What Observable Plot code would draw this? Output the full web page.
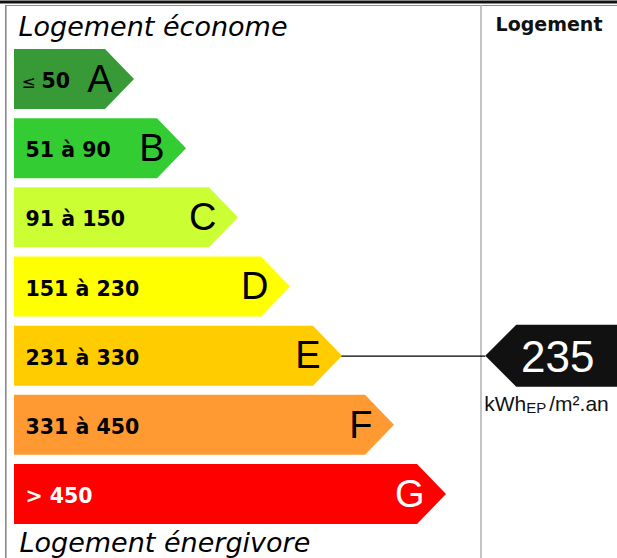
<!DOCTYPE html>
<html>
<head>
<meta charset="utf-8">
<script src="https://cdn.jsdelivr.net/npm/d3@7"></script>
<script src="https://cdn.jsdelivr.net/npm/@observablehq/plot@0.6"></script>
<style>
  html, body { margin: 0; padding: 0; background: #fff; }
  #chart svg { display: block; }
</style>
</head>
<body>
<div id="chart"></div>
<script>
// ---- data ----
const classes = ["A", "B", "C", "D", "E", "F", "G"];
const rangeLabels = ["50", "51 à 90", "91 à 150", "151 à 230", "231 à 330", "331 à 450", "> 450"];
const labelPrefix = ["≤", "", "", "", "", "", ""];
const thresholds = [50, 90, 150, 230, 330, 450];
const barLength = [7, 11, 15, 19, 23, 27, 31];
const barColors = ["#379a37", "#33cc33", "#ccff33", "#ffff00", "#ffcc00", "#ff9a33", "#ff0000"];
const textColors = ["#000", "#000", "#000", "#000", "#000", "#000", "#fff"];
const energyValue = 235;
const unitMain = "kWh", unitSub = "EP", unitTail = "/m².an";
const topTitle = "Logement économe";
const bottomTitle = "Logement énergivore";
const columnTitle = "Logement";

// ---- derived table ----
const rows = classes.map((cls, i) => ({
  cls, label: rangeLabels[i], prefix: labelPrefix[i], len: barLength[i],
  color: barColors[i], ink: textColors[i]
}));
const markerClass = classes[d3.bisectLeft(thresholds, energyValue)];
const markerRow = rows.find(d => d.cls === markerClass);
const markerData = [{cls: markerClass, value: energyValue, len: markerRow.len}];

const W = 617, H = 558;
const X_MAX = 36.25;
const TIP = 29;

function bandwidthOf(scales) {
  if (scales.y && typeof scales.y.bandwidth === "function") return scales.y.bandwidth();
  return scales.scales.y.bandwidth;
}

function arrowRender(index, scales, values) {
  const bw = bandwidthOf(scales);
  const g = d3.create("svg:g");
  for (const i of index) {
    const x0 = values.x1[i], x1 = values.x2[i], y0 = values.y[i];
    g.append("path")
      .attr("d", `M${x0},${y0}H${x1}L${x1 + TIP},${y0 + bw / 2}L${x1},${y0 + bw}H${x0}Z`)
      .attr("fill", values.fill ? values.fill[i] : rows[i].color);
  }
  return g.node();
}

function markerRender(index, scales, values, dimensions, context, next) {
  const bw = bandwidthOf(scales);
  const g = d3.create("svg:g");
  for (const i of index) {
    const xt = values.x[i], yc = values.y[i] + bw / 2, h = 31;
    g.append("path")
      .attr("d", `M${xt},${yc}L${xt + h},${yc - h}H${dimensions.width + 2}V${yc + h}H${xt + h}Z`)
      .attr("fill", "#111");
    const t = g.append("text")
      .attr("x", xt - 1).attr("y", yc + 55)
      .attr("text-anchor", "start")
      .attr("font-family", "Liberation Sans, Arial, sans-serif")
      .attr("font-size", 21).attr("fill", "#111");
    t.append("tspan").text(unitMain);
    t.append("tspan").attr("font-size", 15).attr("dy", 2).text(unitSub);
    t.append("tspan").attr("dy", -2).attr("dx", 3).text(unitTail);
  }
  const node = g.node();
  const txt = next(index, scales, values, dimensions, context);
  if (txt) node.appendChild(txt);
  return node;
}

function frameRender(index, scales, values, dimensions) {
  const {width, height} = dimensions;
  const g = d3.create("svg:g").attr("fill", "none");
  g.append("line").attr("x1", 0).attr("x2", width).attr("y1", 2).attr("y2", 2)
    .attr("stroke", "#111").attr("stroke-width", 3.2);
  g.append("line").attr("x1", 5).attr("x2", width).attr("y1", 5.5).attr("y2", 5.5)
    .attr("stroke", "#8a8a8a").attr("stroke-width", 1);
  g.append("line").attr("x1", 5.8).attr("x2", 5.8).attr("y1", 5).attr("y2", height)
    .attr("stroke", "#8a8a8a").attr("stroke-width", 1.6);
  g.append("line").attr("x1", 481).attr("x2", 481).attr("y1", 5).attr("y2", height)
    .attr("stroke", "#b0b0b0").attr("stroke-width", 1.5);
  return g.node();
}

const chart = Plot.plot({
  width: W,
  height: H,
  margin: 0,
  x: {type: "linear", domain: [0, X_MAX], range: [14, 14 + 13 * X_MAX], axis: null},
  y: {type: "band", domain: classes, range: [49, 524], paddingInner: 0.1326, paddingOuter: 0, align: 0.5, round: false, axis: null},
  color: {type: "identity"},
  style: {background: "#fff", overflow: "visible"},
  marks: [
    Plot.frame({render: frameRender}),
    // connector line from class tip to marker
    Plot.ruleY(markerData, {y: "cls", x1: "len", x2: () => X_MAX, stroke: "#000", strokeWidth: 1.2}),
    // arrows
    Plot.barX(rows, {x1: 0, x2: "len", y: "cls", fill: "color", render: arrowRender}),
    // range labels
    Plot.text(rows.filter(d => !d.prefix), {
      x: 0, y: "cls", text: "label", dx: 11, dy: 2, textAnchor: "start", fill: "ink",
      fontSize: 20.5, fontWeight: "bold", fontFamily: "DejaVu Sans, Verdana, sans-serif"
    }),
    Plot.text(rows.filter(d => d.prefix), {
      x: 0, y: "cls", text: "label", dx: 27, dy: 2, textAnchor: "start", fill: "ink",
      fontSize: 20.5, fontWeight: "bold", fontFamily: "DejaVu Sans, Verdana, sans-serif"
    }),
    Plot.text(rows.filter(d => d.prefix), {
      x: 0, y: "cls", text: "prefix", dx: 7, dy: 3, textAnchor: "start", fill: "ink",
      fontSize: 17, fontFamily: "DejaVu Sans, Verdana, sans-serif"
    }),
    // class letters
    Plot.text(rows, {
      x: "len", y: "cls", text: "cls", dx: 7, textAnchor: "end", fill: "ink",
      fontSize: 38, fontFamily: "Liberation Sans, Arial, sans-serif"
    }),
    // marker with value
    Plot.text(markerData, {
      x: () => X_MAX, y: "cls", text: d => String(d.value), dx: 72, dy: 2,
      textAnchor: "middle", fill: "#fff", fontSize: 44,
      fontFamily: "Liberation Sans, Arial, sans-serif", render: markerRender
    }),
    // titles
    Plot.text([topTitle], {
      frameAnchor: "top-left", text: d => d, dx: 18, dy: 26.5, textAnchor: "start", lineAnchor: "middle",
      fontSize: 27, fontStyle: "italic", fill: "#000",
      fontFamily: "DejaVu Sans, Verdana, sans-serif"
    }),
    Plot.text([bottomTitle], {
      frameAnchor: "top-left", text: d => d, dx: 19, dy: 543, textAnchor: "start", lineAnchor: "middle",
      fontSize: 27, fontStyle: "italic", fill: "#000",
      fontFamily: "DejaVu Sans, Verdana, sans-serif"
    }),
    Plot.text([columnTitle], {
      frameAnchor: "top-left", text: d => d, dx: 548.5, dy: 24, textAnchor: "middle", lineAnchor: "middle",
      fontSize: 19, fontWeight: "bold", fill: "#111",
      fontFamily: "DejaVu Sans, Verdana, sans-serif"
    })
  ]
});

document.getElementById("chart").appendChild(chart);
</script>
</body>
</html>
